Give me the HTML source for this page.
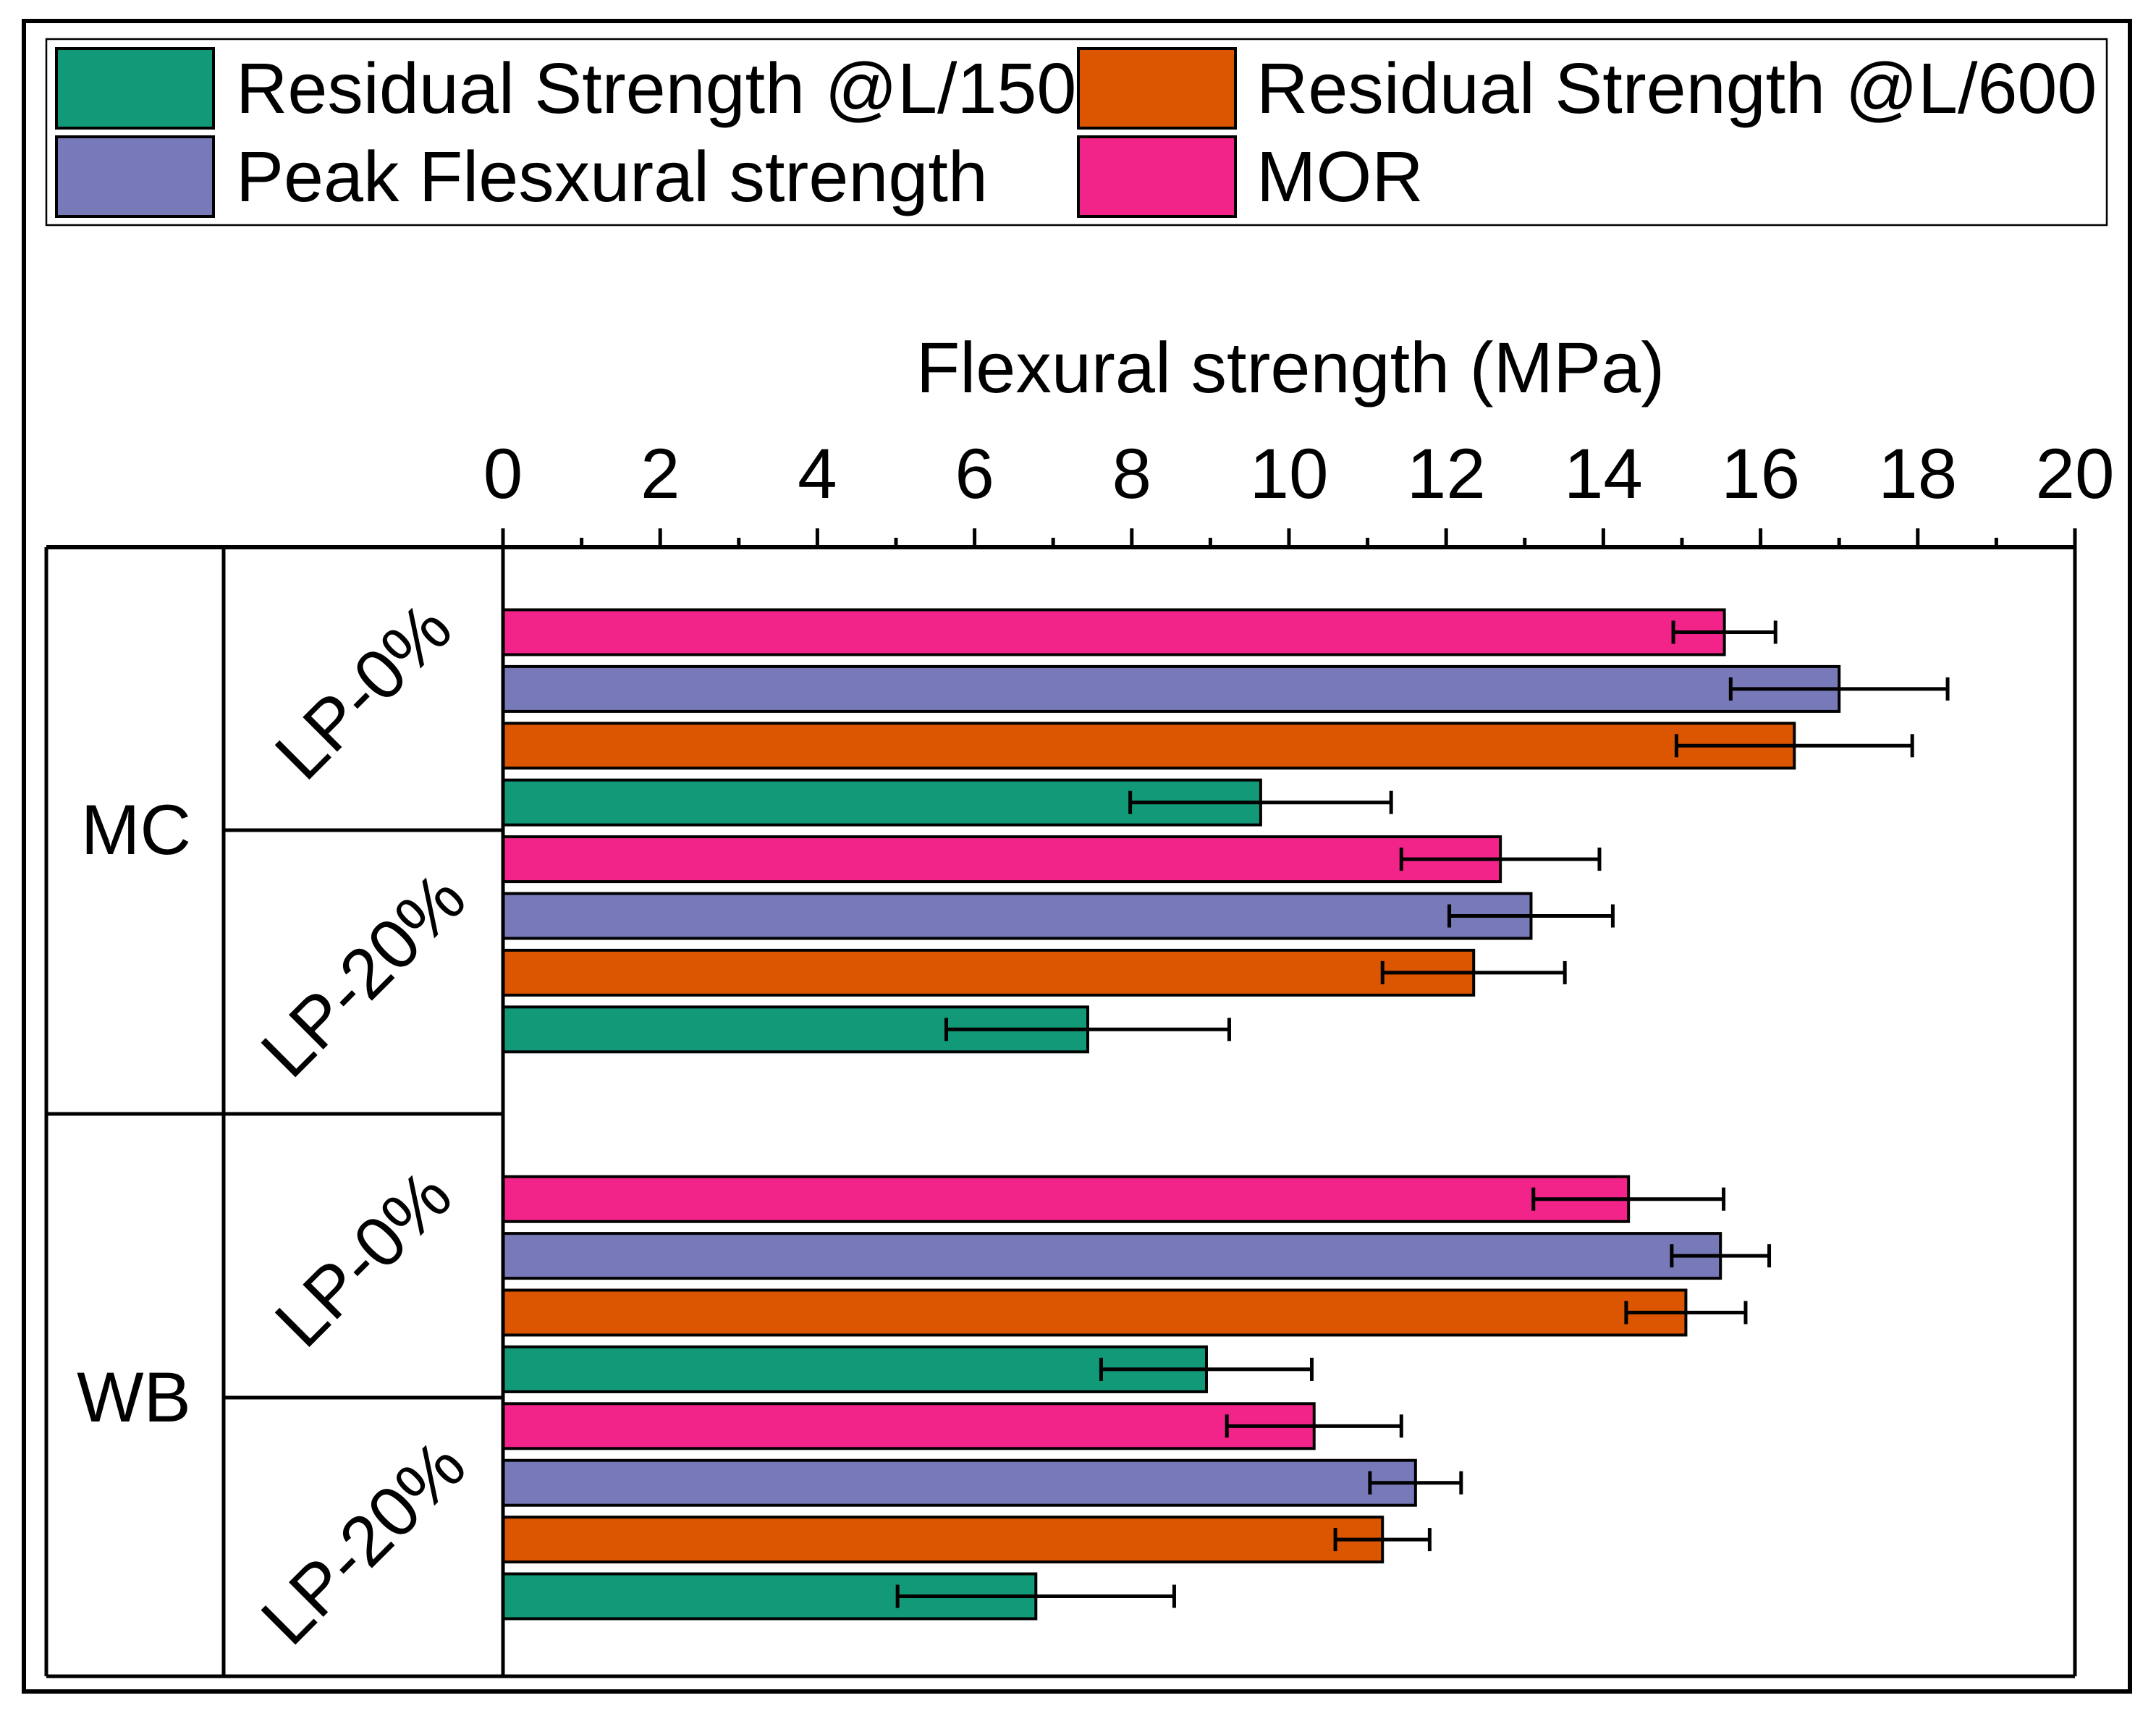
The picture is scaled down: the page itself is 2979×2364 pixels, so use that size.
<!DOCTYPE html>
<html lang="en">
<head>
<meta charset="utf-8">
<title>Flexural strength chart</title>
<style>
html,body{margin:0;padding:0;background:#fff;}
svg{display:block;}
text{font-family:"Liberation Sans",Arial,sans-serif;font-size:98px;fill:#000;text-rendering:geometricPrecision;}
</style>
</head>
<body>
<svg id="chart" xmlns="http://www.w3.org/2000/svg" width="2979" height="2364" viewBox="0 0 2979 2364">
  <rect x="33" y="29" width="2910" height="2308" fill="#fff" stroke="#000" stroke-width="6"/>
  <g id="legend">
    <rect x="64" y="54" width="2847" height="257" fill="#fff" stroke="#000" stroke-width="2.5"/>
  </g>
  <g id="plot"></g>
  <text x="1783" y="542" text-anchor="middle" style="font-size:99px">Flexural strength (MPa)</text>
</svg>
<script>
const categories = ["MC LP-0%", "MC LP-20%", "WB LP-0%", "WB LP-20%"];
const seriesNames = ["MOR", "Peak Flesxural strength", "Residual Strength @L/600", "Residual Strength @L/150"];
const seriesColors = ["#f2248a", "#7879b8", "#dc5500", "#129a78"];
const morValues = [15.54, 12.69, 14.32, 10.32];
const morErrors = [0.65, 1.26, 1.21, 1.11];
const peakValues = [17.0, 13.08, 15.49, 11.61];
const peakErrors = [1.38, 1.04, 0.62, 0.58];
const l600Values = [16.43, 12.35, 15.05, 11.19];
const l600Errors = [1.50, 1.16, 0.76, 0.6];
const l150Values = [9.64, 7.44, 8.95, 6.78];
const l150Errors = [1.66, 1.8, 1.34, 1.76];
const majorTicks = [0, 2, 4, 6, 8, 10, 12, 14, 16, 18, 20];
const minorTicks = [1, 3, 5, 7, 9, 11, 13, 15, 17, 19];

const valueSets = [morValues, peakValues, l600Values, l150Values];
const errorSets = [morErrors, peakErrors, l600Errors, l150Errors];

const NS = "http://www.w3.org/2000/svg";
const plot = document.getElementById("plot");
const legend = document.getElementById("legend");

function xScale(v) { return 695 + v * 108.6; }
function yBand(g, s) {
  const gap = g >= 2 ? 1.99 : 0;
  return 873.5 + (g * 4 + s + gap) * 78.4;
}
function make(tag, parent, attrs, txt) {
  const el = document.createElementNS(NS, tag);
  for (const k in attrs) el.setAttribute(k, attrs[k]);
  if (txt !== undefined) el.textContent = txt;
  parent.appendChild(el);
  return el;
}
function line(x1, y1, x2, y2, w, parent) {
  return make("line", parent || plot, {x1: x1, y1: y1, x2: x2, y2: y2, stroke: "#000", "stroke-width": w});
}

/* legend */
const legendOrder = [3, 2, 1, 0];
const legendSlots = [[78, 67, 333], [1490, 67, 1743], [78, 189, 333], [1490, 189, 1743]];
legendOrder.forEach(function (s, i) {
  const slot = legendSlots[i];
  const sw = make("rect", legend, {x: slot[0], y: slot[1], width: 217, height: 110, fill: seriesColors[s], stroke: "#000", "stroke-width": 4});
  
  
  const t = make("text", legend, {x: slot[2] - 7, y: slot[1] + 89, style: "font-size:98.9px"}, seriesNames[s]);
  
  
});

/* bars */
categories.forEach(function (cat, g) {
  valueSets.forEach(function (vals, s) {
    const v = vals[g];
    const e = errorSets[s][g];
    const y = yBand(g, s);
    const bar = make("rect", plot, {x: xScale(0), y: y - 31, width: xScale(v) - xScale(0), height: 62, fill: seriesColors[s], stroke: "#000", "stroke-width": 4});
    
    
    const eb = make("g", plot, {});
    
    
    line(xScale(v - e), y, xScale(v + e), y, 5, eb);
    line(xScale(v - e), y - 16, xScale(v - e), y + 16, 5, eb);
    line(xScale(v + e), y - 16, xScale(v + e), y + 16, 5, eb);
  });
});

/* axes and table */
const axisTop = line(64, 756, xScale(20), 756, 6);


const tableLines = [
  [64, 756, 64, 2316], [309, 756, 309, 2316], [695, 756, 695, 2316],
  [xScale(20), 756, xScale(20), 2316], [64, 2316, xScale(20), 2316],
  [64, 1539, 695, 1539], [309, 1147, 695, 1147], [309, 1931, 695, 1931]
];
tableLines.forEach(function (c) {
  const l = line(c[0], c[1], c[2], c[3], 5);
  
  
});
majorTicks.forEach(function (t) {
  const tick = line(xScale(t), 730, xScale(t), 756, 5);
  
  
  const lab = make("text", plot, {x: xScale(t), y: 688, "text-anchor": "middle"}, String(t));
  
  
});
minorTicks.forEach(function (t) {
  const tick = line(xScale(t), 743, xScale(t), 756, 5);
  
  
});

/* group labels */
const mc = make("text", plot, {x: 188, y: 1180, "text-anchor": "middle"}, "MC");


const wb = make("text", plot, {x: 185, y: 1964, "text-anchor": "middle"}, "WB");


const lpLabels = ["LP-0%", "LP-20%", "LP-0%", "LP-20%"];
const lpCentersY = [954, 1346, 1738, 2130];
lpLabels.forEach(function (txt, i) {
  const cy = lpCentersY[i];
  const t = make("text", plot, {x: 501, y: cy + 35, "text-anchor": "middle", transform: "rotate(-45 501 " + cy + ")"}, txt);
  
  
});
</script>
</body>
</html>
